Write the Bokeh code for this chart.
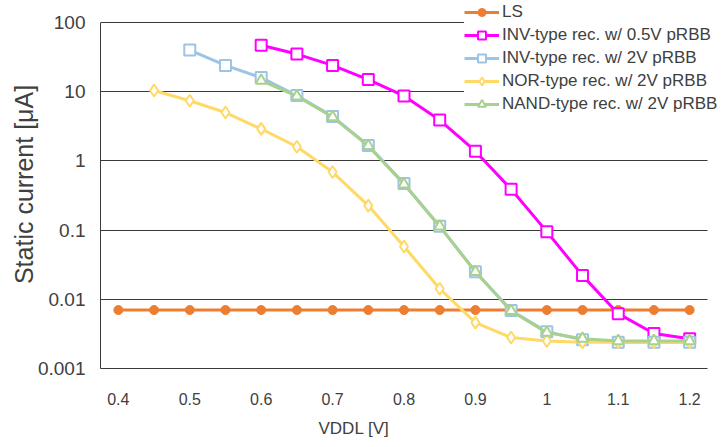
from bokeh.plotting import figure
from bokeh.models import (Range1d, FixedTicker, CustomJSTickFormatter, Legend, LegendItem,
                          Title, BoxAnnotation)
from bokeh.embed import file_html
from bokeh.resources import INLINE

# ---- data ----
vddl_all = [0.4, 0.45, 0.5, 0.55, 0.6, 0.65, 0.7, 0.75, 0.8, 0.85, 0.9, 0.95, 1.0, 1.05, 1.1, 1.15, 1.2]
ls_current = [0.007] * 17

vddl_inv05 = [0.6, 0.65, 0.7, 0.75, 0.8, 0.85, 0.9, 0.95, 1.0, 1.05, 1.1, 1.15, 1.2]
inv05_current = [47, 35, 24, 15, 8.7, 3.9, 1.38, 0.39, 0.095, 0.022, 0.0062, 0.0032, 0.0027]

vddl_inv2 = [0.5, 0.55, 0.6, 0.65, 0.7, 0.75, 0.8, 0.85, 0.9, 0.95, 1.0, 1.05, 1.1, 1.15, 1.2]
inv2_current = [40, 24, 16, 8.8, 4.4, 1.67, 0.47, 0.114, 0.025, 0.0069, 0.0034, 0.0026, 0.0024, 0.0024, 0.0024]

vddl_nor = [0.45, 0.5, 0.55, 0.6, 0.65, 0.7, 0.75, 0.8, 0.85, 0.9, 0.95, 1.0, 1.05, 1.1, 1.15, 1.2]
nor_current = [10.4, 7.4, 5.0, 2.9, 1.6, 0.69, 0.226, 0.058, 0.0142, 0.0046, 0.0028, 0.0025, 0.0024, 0.0024, 0.0024, 0.0024]

vddl_nand = [0.6, 0.65, 0.7, 0.75, 0.8, 0.85, 0.9, 0.95, 1.0, 1.05, 1.1, 1.15, 1.2]
nand_current = [14.5, 8.6, 4.3, 1.65, 0.46, 0.113, 0.025, 0.0068, 0.0033, 0.0027, 0.0025, 0.0025, 0.0025]

x_ticks = [0.4, 0.5, 0.6, 0.7, 0.8, 0.9, 1.0, 1.1, 1.2]
y_ticks = [0.001, 0.01, 0.1, 1, 10, 100]
x_bounds = (0.375, 1.225)

labels = ["LS", "INV-type rec. w/ 0.5V pRBB", "INV-type rec. w/ 2V pRBB",
          "NOR-type rec. w/ 2V pRBB", "NAND-type rec. w/ 2V pRBB"]
colors = ["#ED7D31", "#FF00FF", "#9DC3E6", "#FFD966", "#A9D18E"]

FONT = "Liberation Sans"
TXT = "#404040"
GRID = "#3a3a3a"

# frame extends above/right of the plot area so that the legend (clipped to the frame) fits
p = figure(width=721, height=447, y_axis_type="log",
           x_range=Range1d(0.375, 1.2446), y_range=Range1d(0.001, 208),
           output_backend="svg", toolbar_location=None,
           min_border_left=100, min_border_right=0, min_border_top=0, min_border_bottom=79)
p.outline_line_color = None
p.background_fill_color = "white"

# axes
p.xaxis.ticker = FixedTicker(ticks=x_ticks)
p.xaxis.formatter = CustomJSTickFormatter(code="return String(Number(tick.toFixed(2)));")
p.xaxis.bounds = x_bounds
p.yaxis.ticker = FixedTicker(ticks=y_ticks)
p.yaxis.formatter = CustomJSTickFormatter(code="return String(Number(tick.toPrecision(3)));")
p.yaxis.bounds = (y_ticks[0], y_ticks[-1])
for ax in (p.xaxis[0], p.yaxis[0]):
    ax.major_tick_in = 0
    ax.minor_tick_line_color = None
    ax.axis_line_color = GRID
    ax.axis_line_width = 1
    ax.major_label_text_font = FONT
    ax.major_label_text_color = TXT
p.xaxis.major_tick_out = 0
p.yaxis.major_tick_out = 0
p.xaxis.major_label_text_font_size = "16px"
p.yaxis.major_label_text_font_size = "19px"
p.xaxis.major_label_standoff = 24
p.yaxis.major_label_standoff = 15

p.yaxis.axis_label = "Static current [\u03bcA]"
p.yaxis.axis_label_text_font = FONT
p.yaxis.axis_label_text_font_size = "25px"
p.yaxis.axis_label_text_font_style = "normal"
p.yaxis.axis_label_text_color = TXT
p.yaxis.axis_label_standoff = -3

p.add_layout(Title(text="VDDL [V]", align="left", offset=218, text_font=FONT,
                   text_font_size="17px", text_font_style="normal", text_color=TXT,
                   standoff=19), "below")

p.xgrid.grid_line_color = None
p.ygrid.grid_line_color = GRID
p.ygrid.grid_line_width = 1

# series
r_ls_l = p.line(vddl_all, ls_current, line_color=colors[0], line_width=3)
r_ls_m = p.scatter(vddl_all, ls_current, marker="circle", size=9,
                   fill_color=colors[0], line_color=colors[0])

r_i5_l = p.line(vddl_inv05, inv05_current, line_color=colors[1], line_width=3)
r_i5_m = p.scatter(vddl_inv05, inv05_current, marker="square", size=11,
                   fill_color="white", line_color=colors[1], line_width=2)

r_i2_l = p.line(vddl_inv2, inv2_current, line_color=colors[2], line_width=3)
r_i2_m = p.scatter(vddl_inv2, inv2_current, marker="square", size=11,
                   fill_color="white", line_color=colors[2], line_width=2)

r_no_l = p.line(vddl_nor, nor_current, line_color=colors[3], line_width=3)
r_no_m = p.scatter(vddl_nor, nor_current, marker="diamond", size=12,
                   fill_color="white", line_color=colors[3], line_width=2)

r_na_l = p.line(vddl_nand, nand_current, line_color=colors[4], line_width=3)
r_na_m = p.scatter(vddl_nand, nand_current, marker="triangle", size=11,
                   fill_color="white", line_color=colors[4], line_width=2)

# blank the strip right of the plot area (grid lines stop at the plot area edge)
p.add_layout(BoxAnnotation(left=x_bounds[1], fill_color="white", fill_alpha=1.0,
                           line_color=None, level="underlay"))

legend = Legend(items=[
    LegendItem(label=labels[0], renderers=[r_ls_l, r_ls_m]),
    LegendItem(label=labels[1], renderers=[r_i5_l, r_i5_m]),
    LegendItem(label=labels[2], renderers=[r_i2_l, r_i2_m]),
    LegendItem(label=labels[3], renderers=[r_no_l, r_no_m]),
    LegendItem(label=labels[4], renderers=[r_na_l, r_na_m]),
], location=(364, 254))
legend.margin = 0
legend.padding = 8
legend.spacing = 3
legend.glyph_width = 35
legend.glyph_height = 20
legend.label_height = 20
legend.label_standoff = 3
legend.label_text_font = FONT
legend.label_text_font_size = "17px"
legend.label_text_color = TXT
legend.border_line_color = None
legend.background_fill_color = "white"
legend.background_fill_alpha = 1.0
p.add_layout(legend, "center")

open("out.html", "w").write(file_html(p, INLINE))
